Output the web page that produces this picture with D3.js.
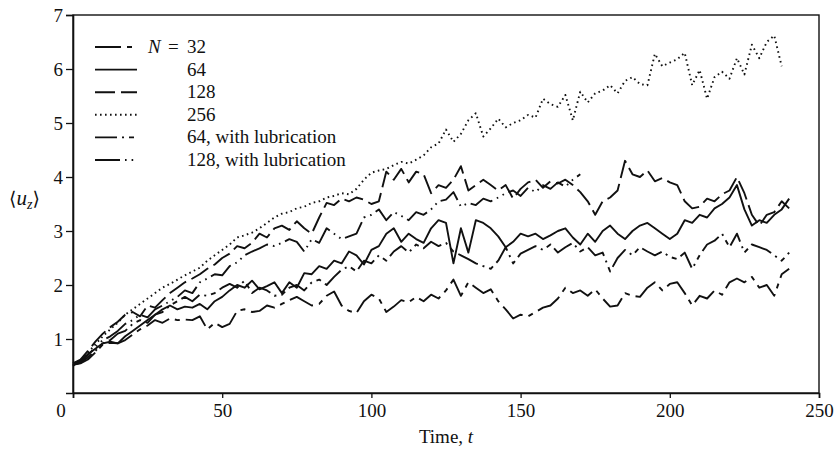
<!DOCTYPE html>
<html>
<head>
<meta charset="utf-8">
<script src="https://cdn.jsdelivr.net/npm/d3@7"></script>
<style>
  body { margin: 0; background: #fff; }
  text { font-family: "Liberation Serif", "Times New Roman", Tinos, "DejaVu Serif", serif; fill: #111; }
</style>
</head>
<body>
<svg id="chart" width="840" height="454"></svg>
<script>
// sample spacing of every series below (time units)
var STEP = 2.5;

var timeTicks = [0, 50, 100, 150, 200, 250];
var valueTicks = [1, 2, 3, 4, 5, 6, 7];

// N = 32 (lowest curve)
var n32 = [0.52,0.55,0.62,0.75,0.90,0.93,0.92,0.98,1.08,1.18,1.25,1.35,1.30,1.38,1.35,1.36,1.35,1.42,1.18,1.30,
  1.22,1.28,1.52,1.55,1.50,1.52,1.62,1.58,1.65,1.72,1.78,1.70,1.62,1.65,1.80,1.88,1.62,1.52,1.48,1.70,
  1.82,1.75,1.50,1.60,1.72,1.68,1.78,1.70,1.82,1.75,1.90,2.10,1.80,2.05,1.95,1.85,1.92,1.70,1.55,1.38,
  1.45,1.42,1.50,1.58,1.62,1.75,1.95,1.85,1.90,1.80,1.92,1.75,1.60,1.62,1.85,1.80,1.78,1.95,2.05,1.90,
  2.02,2.05,1.85,1.62,1.80,1.75,1.90,1.82,2.05,2.12,2.05,2.15,1.95,2.00,1.80,2.20,2.30];

// N = 64
var n64 = [0.55,0.60,0.72,0.82,0.92,0.95,0.92,1.05,1.15,1.25,1.35,1.45,1.55,1.62,1.55,1.60,1.58,1.65,1.55,1.70,
  1.78,1.90,2.00,1.95,2.08,1.92,1.98,2.05,1.85,2.05,1.95,2.22,2.20,2.35,2.30,2.45,2.40,2.62,2.55,2.38,
  2.65,2.72,2.95,3.05,2.80,2.95,2.85,2.78,3.05,3.20,3.15,2.40,3.05,2.60,3.20,3.15,3.05,2.90,2.70,2.80,
  2.95,2.90,2.95,2.85,2.92,3.00,3.05,2.88,2.75,2.95,2.80,3.00,3.10,2.95,2.85,3.00,3.10,3.15,3.05,2.95,
  2.85,2.95,3.20,3.15,3.30,3.25,3.42,3.50,3.62,3.85,3.40,3.10,3.20,3.15,3.30,3.40,3.60];

// N = 128
var n128 = [0.55,0.62,0.78,0.95,1.10,1.22,1.32,1.45,1.50,1.42,1.62,1.58,1.72,1.85,1.95,2.05,2.12,2.20,2.30,2.38,
  2.50,2.58,2.72,2.68,2.78,2.95,2.88,3.05,3.10,3.02,3.18,3.05,2.95,3.25,3.52,3.48,3.60,3.55,3.62,3.58,
  3.50,3.55,4.10,3.95,4.15,3.90,4.10,4.05,3.70,3.85,3.80,3.95,4.20,3.75,3.85,3.95,3.85,3.75,3.85,3.60,
  3.78,3.90,3.95,3.80,3.92,3.88,3.95,3.85,3.72,3.55,3.30,3.55,3.62,3.75,4.30,4.05,4.00,4.12,3.92,3.98,
  3.90,3.85,3.55,3.42,3.45,3.60,3.55,3.68,3.75,4.00,3.70,3.30,3.10,3.30,3.35,3.55,3.42];

// N = 256
var n256 = [0.50,0.60,0.75,0.90,1.05,1.18,1.30,1.45,1.55,1.65,1.75,1.85,1.95,2.02,2.10,2.18,2.25,2.32,2.45,2.55,
  2.65,2.75,2.88,2.92,2.97,3.05,3.15,3.25,3.32,3.35,3.42,3.45,3.52,3.55,3.62,3.65,3.70,3.68,3.78,3.95,
  4.08,4.12,4.15,4.22,4.28,4.25,4.32,4.40,4.55,4.62,4.88,4.65,4.80,5.05,5.18,4.75,4.90,5.08,4.92,5.00,
  5.05,5.15,5.10,5.45,5.35,5.30,5.52,5.05,5.58,5.38,5.55,5.60,5.70,5.55,5.78,5.85,5.72,5.70,6.28,6.05,
  6.12,6.18,6.30,5.70,5.98,5.45,5.85,5.95,5.82,6.20,5.90,6.45,6.20,6.50,6.62,6.05];

// N = 64, with lubrication
var n64lub = [0.52,0.56,0.66,0.78,0.92,0.98,1.10,1.15,1.28,1.35,1.30,1.45,1.50,1.62,1.70,1.78,1.70,1.82,1.80,1.85,
  1.95,2.02,1.95,2.08,1.85,1.95,1.90,1.80,1.82,1.95,2.00,1.90,2.05,2.10,2.00,2.15,2.28,2.35,2.25,2.45,
  2.40,2.55,2.45,2.62,2.72,2.60,2.75,2.68,2.80,2.72,2.78,2.62,2.55,2.48,2.40,2.35,2.30,2.45,2.70,2.40,
  2.58,2.65,2.72,2.65,2.75,2.60,2.70,2.78,2.62,2.70,2.55,2.60,2.25,2.50,2.65,2.55,2.70,2.62,2.55,2.62,
  2.52,2.48,2.60,2.30,2.55,2.75,2.82,2.95,2.70,2.95,2.60,2.75,2.70,2.65,2.55,2.45,2.60];

// N = 128, with lubrication (stops at t = 170)
var n128lub = [0.52,0.58,0.70,0.85,0.98,1.05,1.15,1.28,1.35,1.45,1.40,1.55,1.62,1.70,1.78,1.90,1.85,2.05,2.12,2.20,
  2.18,2.35,2.42,2.55,2.62,2.68,2.75,2.72,2.78,2.85,2.80,2.62,2.85,2.78,3.05,2.95,2.85,2.90,2.95,3.25,
  3.30,3.40,3.20,3.35,3.28,3.20,3.35,3.30,3.40,3.55,3.58,3.72,3.45,3.52,3.48,3.60,3.55,3.62,3.70,3.75,
  3.65,3.80,3.72,3.85,3.78,3.90,3.82,3.95,4.05];

var series = [
  { label: '32', values: n32, dash: '26,6,5,6' },
  { label: '64', values: n64, dash: null },
  { label: '128', values: n128, dash: '20,6' },
  { label: '256', values: n256, dash: '1.6,3.4' },
  { label: '64, with lubrication', values: n64lub, dash: '22,5,2,5,5,5' },
  { label: '128, with lubrication', values: n128lub, dash: '25,5,1.6,5,1.6,5' }
];

var FONT = '"Liberation Serif", "Times New Roman", Tinos, "DejaVu Serif", serif';
var FS = '19px';

var svg = d3.select('#chart');
var margin = { left: 73, right: 21, top: 15, bottom: 61 };
var width = 840 - margin.left - margin.right,
    height = 454 - margin.top - margin.bottom;

var x = d3.scaleLinear().domain([0, 250]).range([0, width]);
var y = d3.scaleLinear().domain([0, 7]).range([height, 0]);

var g = svg.append('g')
    .attr('transform', 'translate(' + margin.left + ',' + margin.top + ')');

// frame
g.append('rect')
    .attr('width', width).attr('height', height)
    .attr('fill', 'none').attr('stroke', '#111').attr('stroke-width', 1.4);

var xAxis = g.append('g')
    .attr('transform', 'translate(0,' + height + ')')
    .call(d3.axisBottom(x).tickValues(timeTicks).tickSize(5).tickPadding(6)
      .tickFormat(function(d) { return d === 0 ? '' : d3.format('d')(d); }));

var yAxis = g.append('g')
    .call(d3.axisLeft(y).tickValues(valueTicks).tickSize(7).tickPadding(3)
      .tickFormat(d3.format('d')));

[xAxis, yAxis].forEach(function(a) {
  a.attr('font-family', FONT).attr('font-size', FS);
  a.select('.domain').attr('stroke', '#111').attr('stroke-width', 1.6);
  a.selectAll('.tick line').attr('stroke', '#111').attr('stroke-width', 1.3);
  a.selectAll('.tick text').attr('fill', '#222');
});

// shared origin label
g.append('text')
    .attr('x', -12).attr('y', height + 24)
    .attr('text-anchor', 'middle')
    .style('font-size', FS)
    .text('0');

var line = d3.line()
    .x(function(d, i) { return x(i * STEP); })
    .y(function(d) { return y(d); });

g.selectAll('.series')
  .data(series)
  .enter().append('path')
    .attr('class', 'series')
    .attr('d', function(d) { return line(d.values); })
    .attr('fill', 'none')
    .attr('stroke', '#111')
    .attr('stroke-width', 1.9)
    .attr('stroke-linejoin', 'round')
    .attr('stroke-dasharray', function(d) { return d.dash; });

// legend
var legend = svg.append('g');
var rows = legend.selectAll('.row')
  .data(series)
  .enter().append('g')
    .attr('transform', function(d, i) { return 'translate(95,' + (47 + i * 22.6) + ')'; });

rows.append('line')
    .attr('x1', 0).attr('x2', 42)
    .attr('stroke', '#111').attr('stroke-width', 1.9)
    .attr('stroke-dasharray', function(d) { return d.dash; });

rows.append('text')
    .attr('x', 92).attr('y', 6)
    .style('font-size', FS)
    .text(function(d) { return d.label; });

var nLabel = legend.append('text')
    .attr('x', 148).attr('y', 53)
    .style('font-size', FS);
nLabel.append('tspan').style('font-style', 'italic').text('N');
nLabel.append('tspan').attr('x', 168).text('=');

// axis titles
var xTitle = svg.append('text')
    .attr('x', 446).attr('y', 443)
    .attr('text-anchor', 'middle')
    .style('font-size', FS);
xTitle.append('tspan').text('Time, ');
xTitle.append('tspan').style('font-style', 'italic').text('t');

var yTitle = svg.append('text')
    .attr('x', 9).attr('y', 205)
    .style('font-size', '21px');
yTitle.append('tspan').style('font-family', '"DejaVu Serif", serif').style('font-size', '19px').text('\u27E8');
yTitle.append('tspan').style('font-style', 'italic').text('u');
yTitle.append('tspan').style('font-style', 'italic').style('font-size', '14px').attr('dy', 4).text('z');
yTitle.append('tspan').style('font-family', '"DejaVu Serif", serif').style('font-size', '19px').attr('dy', -4).text('\u27E9');
</script>
</body>
</html>
